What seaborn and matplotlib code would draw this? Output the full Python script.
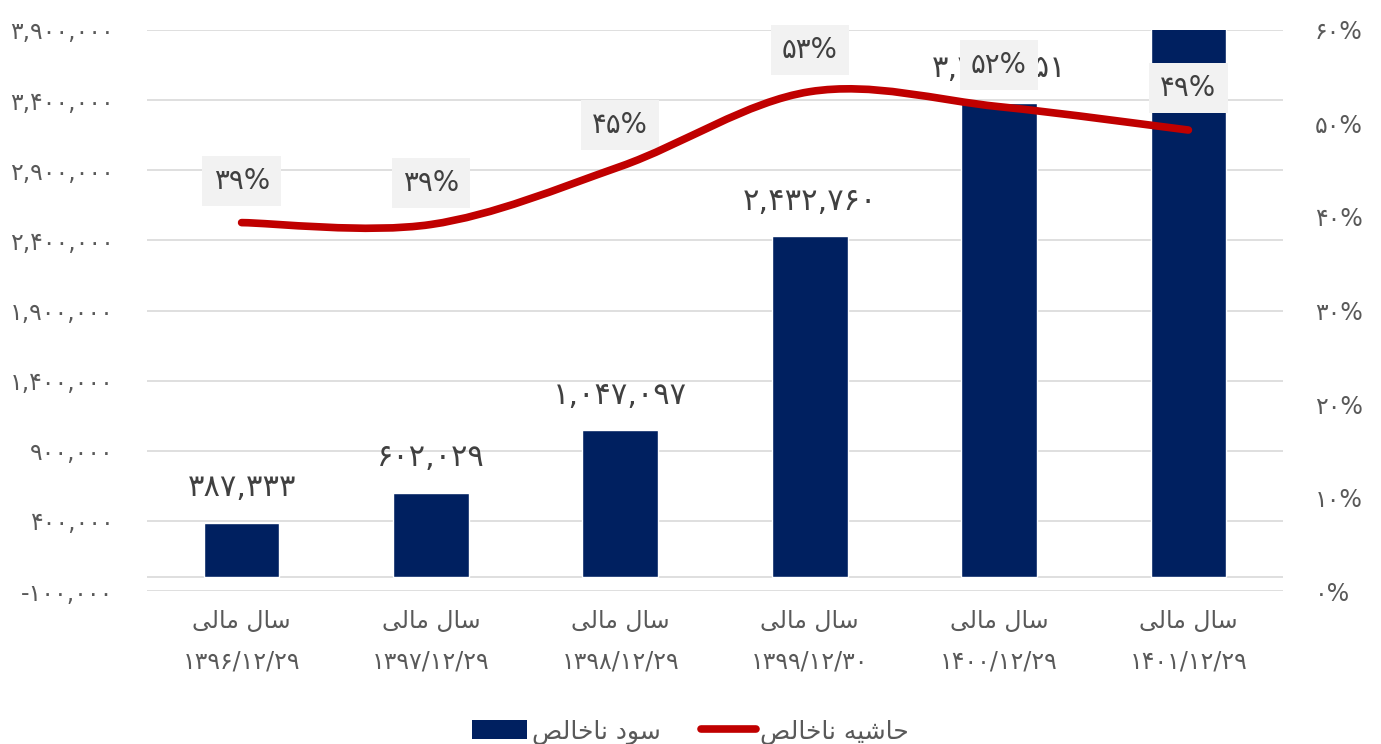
import numpy as np
import pandas as pd
import matplotlib
matplotlib.use("Agg")
import matplotlib.pyplot as plt
import seaborn as sns
from matplotlib.path import Path
from matplotlib.patches import PathPatch, Patch
from matplotlib.lines import Line2D
from matplotlib.ticker import FuncFormatter

# data
# visual (shaped) form of "سال مالی" and the fiscal-year end dates
year_word = "ﻰﻟﺎﻣ ﻝﺎﺳ"
periods = ["1396/12/29", "1397/12/29", "1398/12/29",
           "1399/12/30", "1400/12/29", "1401/12/29"]
gross_profit = [387333, 602029, 1047097, 2432760, 3379651, 4300000]
gross_margin = [0.394, 0.392, 0.454, 0.534, 0.518, 0.493]
margin_labels = ["39%", "39%", "45%", "53%", "52%", "49%"]
legend_labels = ["ﺺﻟﺎﺧﺎﻧ ﺩﻮﺳ", "ﺺﻟﺎﺧﺎﻧ ﻪﻴﺷﺎﺣ"]  # سود ناخالص / حاشیه ناخالص

BAR_C = "#002060"
LINE_C = "#C00000"
GRID_C = "#D9D9D9"
TXT_C = "#404040"
TICK_C = "#595959"

fa_digits = str.maketrans("0123456789", "۰۱۲۳۴۵۶۷۸۹")


def fa(s):
    return str(s).translate(fa_digits)


sns.set_style("white")
plt.rcParams["font.family"] = ["DejaVu Sans"]

fig = plt.figure(figsize=(13.81, 7.44), dpi=100)
ax = fig.add_axes([0.1064, 0.2056, 0.8227, 0.7541])

df = pd.DataFrame({"period": periods, "profit": gross_profit})
sns.barplot(data=df, x="period", y="profit", color=BAR_C, width=0.4,
            saturation=1, ax=ax, zorder=2)

ymin, ymax = -100000, 3900000
ax.set_ylim(ymin, ymax)
ax.set_xlim(-0.5, len(periods) - 0.5)
ax.set_yticks(np.arange(ymin, ymax + 1, 500000))
ax.yaxis.set_major_formatter(FuncFormatter(lambda v, p: fa(f"{int(v):,}")))
ax.grid(axis="y", color=GRID_C, lw=1.2, zorder=0)
ax.axhline(0, color=GRID_C, lw=1.2, zorder=1)
for s in ax.spines.values():
    s.set_visible(False)
ax.tick_params(axis="y", length=0, pad=24, labelsize=17, labelcolor=TICK_C)
ax.tick_params(axis="x", length=0, pad=13, labelsize=17, labelcolor=TICK_C)
ax.set_xticks(range(len(periods)))
ax.set_xticklabels([year_word + "\n" + fa(p) for p in periods], linespacing=1.85)
ax.set_xlabel("")
ax.set_ylabel("")

# bar value labels (the last bar runs off the top, its label is hidden)
for i, v in enumerate(gross_profit):
    if v < ymax:
        ax.annotate(fa(f"{v:,}"), (i, v), xytext=(0, 25), textcoords="offset points",
                    ha="center", va="center", fontsize=22, color=TXT_C)

# margin line on the secondary axis, smoothed like Excel
ax2 = ax.twinx()
ax2.set_ylim(0, 0.6)
ax2.set_yticks(np.arange(0, 0.61, 0.1))
ax2.yaxis.set_major_formatter(FuncFormatter(lambda v, p: fa(f"{round(v * 100)}%")))
ax2.tick_params(axis="y", length=0, pad=23, labelsize=17, labelcolor=TICK_C)
for s in ax2.spines.values():
    s.set_visible(False)

pts = np.column_stack([np.arange(len(gross_margin)), gross_margin])
ext = np.vstack([pts[0], pts, pts[-1]])
verts = [tuple(pts[0])]
codes = [Path.MOVETO]
for i in range(len(pts) - 1):
    p0, p1, p2, p3 = ext[i], ext[i + 1], ext[i + 2], ext[i + 3]
    c1 = p1 + (p2 - p0) / 6
    c2 = p2 - (p3 - p1) / 6
    verts += [tuple(c1), tuple(c2), tuple(p2)]
    codes += [Path.CURVE4] * 3
ax2.add_patch(PathPatch(Path(verts, codes), facecolor="none", edgecolor=LINE_C,
                        lw=5.5, capstyle="round", joinstyle="round", zorder=5))

for i, (m, lab) in enumerate(zip(gross_margin, margin_labels)):
    ax2.annotate(fa(lab), (i, m), xytext=(0, 30), textcoords="offset points",
                 ha="center", va="center", fontsize=20, color=TXT_C, zorder=4,
                 bbox=dict(boxstyle="square,pad=0.4", fc="#F2F2F2", ec="none"))

handles = [Patch(facecolor=BAR_C, edgecolor="none"),
           Line2D([0], [0], color=LINE_C, lw=5.5, solid_capstyle="round")]
fig.legend(handles, legend_labels, loc="center", bbox_to_anchor=(0.5, 0.016),
           ncol=2, frameon=False, fontsize=18, labelcolor=TICK_C,
           handlelength=2.2, handleheight=0.8, handletextpad=0.2, columnspacing=1.6)

plt.savefig("out.png", dpi=100)
